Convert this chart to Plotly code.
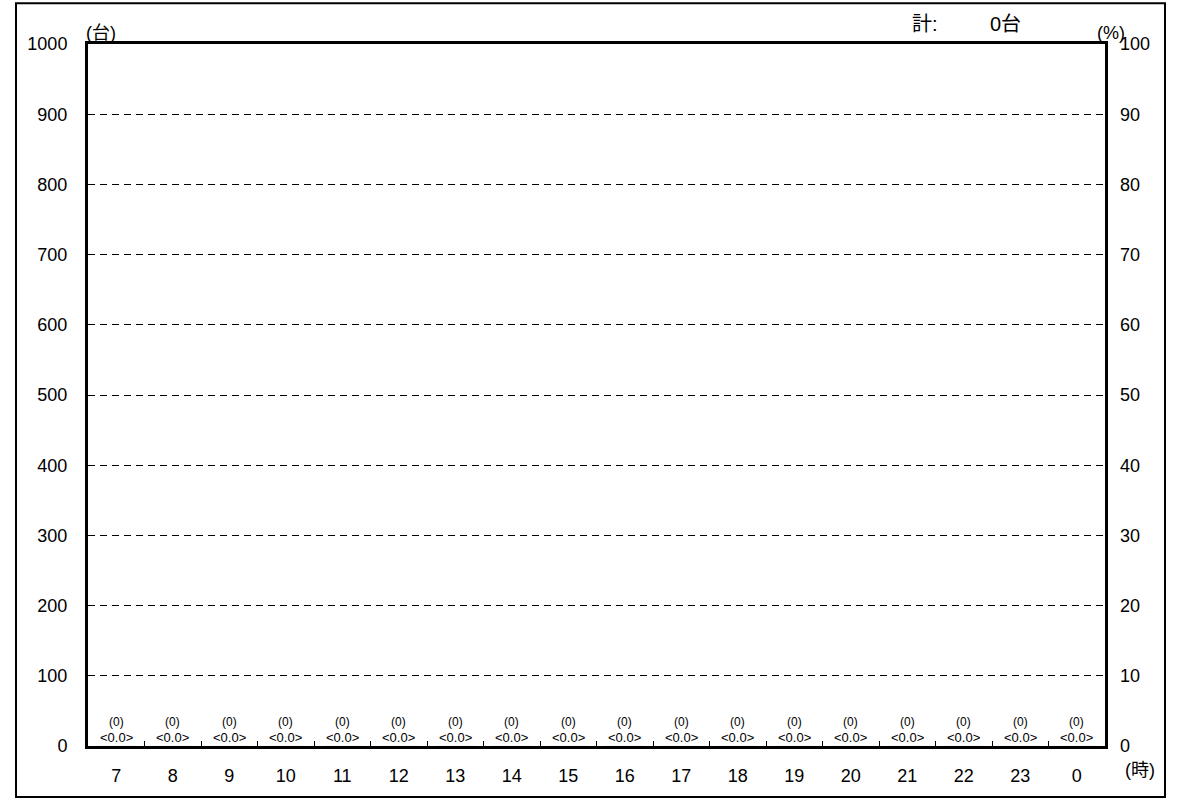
import plotly.graph_objects as go

# hourly counts (台) and share (%)
hours = ["7", "8", "9", "10", "11", "12", "13", "14", "15", "16", "17", "18",
         "19", "20", "21", "22", "23", "0"]
counts = [0] * 18
shares = [0.0] * 18
total = sum(counts)

FONT = "Arial, Liberation Sans, Noto Sans CJK JP, sans-serif"

fig = go.Figure()
fig.add_trace(
    go.Bar(
        x=hours,
        y=counts,
        marker_color="#808080",
        showlegend=False,
    )
)
# invisible trace so the right-hand % axis is drawn
fig.add_trace(
    go.Scatter(x=hours, y=shares, yaxis="y2", mode="lines",
               line=dict(width=0), showlegend=False, hoverinfo="skip")
)

# (count) <share> labels above each bar (x given as category index)
for i, (c, s) in enumerate(zip(counts, shares)):
    fig.add_annotation(x=i, y=c, text=f"({c})", showarrow=False,
                       yanchor="bottom", yshift=16, borderpad=0,
                       font=dict(size=12))
    fig.add_annotation(x=i, y=c, text=f"&lt;{s:.1f}&gt;", showarrow=False,
                       yanchor="bottom", yshift=0, borderpad=0,
                       font=dict(size=13))

# unit labels
def label(x, y, text, size):
    fig.add_annotation(xref="paper", yref="paper", x=x, y=y, text=text,
                       xanchor="center", yanchor="middle",
                       showarrow=False, font=dict(size=size))

label(0.0128, 1.0157, "(台)", 18)
label(0.823, 1.028, "計:", 20)
label(0.902, 1.028, f"{total}台", 20)
label(1.006, 1.0157, "(%)", 18)
label(1.034, -0.034, "(時)", 18)

# outer frame
fig.add_shape(type="rect", xref="paper", yref="paper",
              x0=-0.0708, x1=1.059, y0=-0.0726, y1=1.058,
              line=dict(color="black", width=2))

fig.update_layout(
    width=1181,
    height=798,
    margin=dict(l=88, r=76, t=44, b=52),
    paper_bgcolor="white",
    plot_bgcolor="white",
    font=dict(family=FONT, size=18, color="black"),
    bargap=0.3,
    xaxis=dict(
        type="category",
        range=[-0.5, 17.5],
        showline=True, linecolor="black", linewidth=3, mirror=True,
        ticks="inside", tickson="boundaries", ticklen=5, tickcolor="black",
        ticklabelstandoff=11,
        showgrid=False,
    ),
    yaxis=dict(
        range=[0, 1000],
        dtick=100,
        showline=True, linecolor="black", linewidth=3, mirror=True,
        showgrid=True, gridcolor="black", gridwidth=1, griddash="7px,5px",
        zeroline=False,
        ticks="", ticklabelstandoff=14,
    ),
    yaxis2=dict(
        range=[0, 100],
        dtick=10,
        overlaying="y",
        side="right",
        showgrid=False, zeroline=False, showline=False,
        ticks="", ticklabelstandoff=14,
    ),
)

fig.write_html(
    "out.html",
    config={"displayModeBar": False},
    post_script="document.body.style.margin='0';document.body.style.overflow='hidden';",
)
